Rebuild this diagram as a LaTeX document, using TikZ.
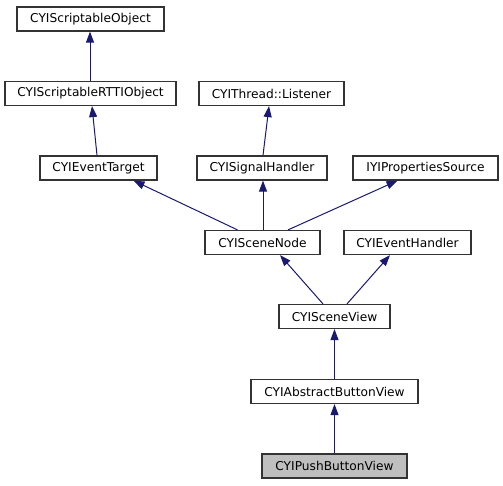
\documentclass[tikz,border=0pt]{standalone}
\usepackage{fontspec}
\setmainfont{DejaVu Sans}
\usetikzlibrary{arrows.meta,calc}
\definecolor{edgeblue}{HTML}{191970}
\definecolor{grayfill}{HTML}{BFBFBF}
\begin{document}
\begin{tikzpicture}[x=1pt,y=-1pt,
  cls/.style={draw=black!80,line width=1.2pt,fill=white,minimum height=24pt,inner sep=0pt,
    font=\fontsize{12.2}{14}\selectfont},
  edge/.style={draw=edgeblue,line width=1pt,-{Triangle[length=11pt,width=8pt]},edgeblue}]
\useasboundingbox (0,0) rectangle (503,485);
\node[cls,minimum width=147pt] (so) at (90.5,19) {CYIScriptableObject};
\node[cls,minimum width=171pt] (rtti) at (90.5,93.5) {CYIScriptableRTTIObject};
\node[cls,minimum width=145pt] (lis) at (271.5,93.5) {CYIThread::Listener};
\node[cls,minimum width=117pt] (et) at (98.5,168) {CYIEventTarget};
\node[cls,minimum width=130pt] (sh) at (262,168) {CYISignalHandler};
\node[cls,minimum width=145pt] (props) at (425.5,168) {IYIPropertiesSource};
\node[cls,minimum width=115pt] (sn) at (262.5,242.5) {CYISceneNode};
\node[cls,minimum width=127pt] (eh) at (407.5,242.5) {CYIEventHandler};
\node[cls,minimum width=111pt] (sv) at (334.5,316.5) {CYISceneView};
\node[cls,minimum width=167pt] (abv) at (334.5,391.5) {CYIAbstractButtonView};
\node[cls,minimum width=145pt,fill=grayfill] (pbv) at (334.5,466) {CYIPushButtonView};
\draw[edge] ([xshift=-0.5pt]rtti.north) -- ([xshift=-0.5pt]so.south);
\draw[edge] ([xshift=-1.5pt]et.north) -- ([xshift=1.5pt]rtti.south);
\draw[edge] ([xshift=1pt]sh.north) -- ([xshift=-2.5pt]lis.south);
\draw[edge] ([xshift=-25pt]sn.north) -- ([xshift=35pt]et.south);
\draw[edge] ([xshift=0.5pt]sn.north) -- ([xshift=1pt]sh.south);
\draw[edge] ([xshift=25.5pt]sn.north) -- ([xshift=-28pt]props.south);
\draw[edge] ([xshift=-11.5pt]sv.north) -- ([xshift=17.5pt]sn.south);
\draw[edge] ([xshift=12.5pt]sv.north) -- ([xshift=-17.5pt]eh.south);
\draw[edge] (abv.north) -- (sv.south);
\draw[edge] (pbv.north) -- (abv.south);
\end{tikzpicture}
\end{document}
